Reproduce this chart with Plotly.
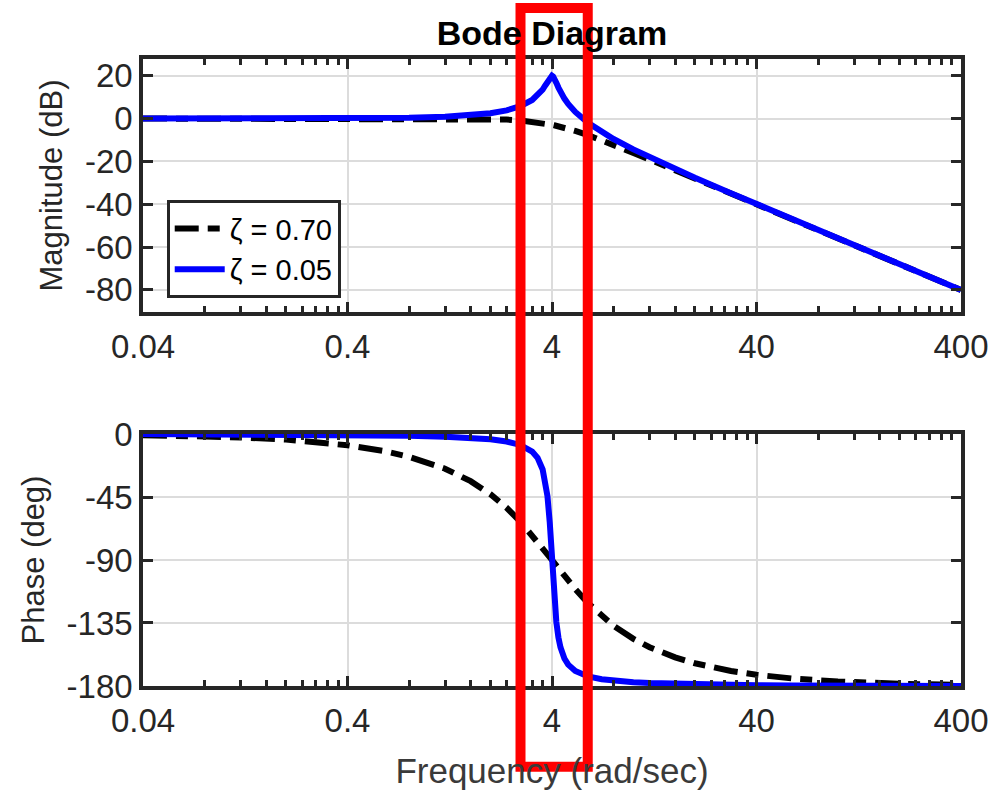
import plotly.graph_objects as go
from plotly.subplots import make_subplots

# ---- data ----
freq = [0.04, 0.08, 0.12, 0.2, 0.28, 0.4, 0.6, 0.8, 1.2, 1.6, 2.0, 2.4, 2.8, 3.2, 3.4,
        3.6, 3.7, 3.8, 3.9, 3.95, 4.0, 4.05, 4.1, 4.2, 4.3, 4.4, 4.6, 4.8, 5.2, 6, 7,
        8, 10, 12, 16, 20, 30, 40, 60, 100, 200, 400]

mag_z070 = [0.00, 0.00, 0.00, 0.00, 0.00, 0.00, 0.00, 0.00, -0.02, -0.08, -0.22, -0.47,
            -0.87, -1.41, -1.74, -2.11, -2.30, -2.50, -2.71, -2.82, -2.92, -3.03, -3.14,
            -3.37, -3.60, -3.83, -4.31, -4.79, -5.79, -7.76, -10.11, -12.26, -16.00,
            -19.12, -24.09, -27.96, -35.00, -40.00, -47.04, -55.92, -67.96, -80.00]

mag_z005 = [0.00, 0.00, 0.01, 0.02, 0.04, 0.09, 0.20, 0.35, 0.81, 1.51, 2.48, 3.84,
            5.77, 8.67, 10.75, 13.55, 15.32, 17.32, 19.23, 19.84, 20.00, 19.63, 18.84,
            16.67, 14.46, 12.50, 9.31, 6.82, 3.07, -2.00, -6.32, -9.56, -14.41,
            -18.07, -23.52, -27.61, -34.85, -39.91, -47.00, -55.90, -67.96, -80.00]

ph_z070 = [-0.80, -1.60, -2.41, -4.01, -5.62, -8.05, -12.13, -16.26, -24.78, -33.69,
           -43.03, -52.70, -62.51, -72.18, -76.87, -81.42, -83.64, -85.81, -87.93,
           -88.97, -90.00, -91.02, -92.02, -93.99, -95.90, -97.77, -101.33, -104.68,
           -110.76, -120.76, -130.09, -136.97, -146.31, -152.30, -159.53, -163.74,
           -169.24, -171.95, -174.64, -176.79, -178.40, -179.20]

ph_z005 = [-0.06, -0.11, -0.17, -0.29, -0.40, -0.58, -0.88, -1.19, -1.89, -2.73,
           -3.81, -5.36, -7.82, -12.53, -17.03, -25.35, -32.65, -44.26, -63.14,
           -75.88, -90.00, -103.96, -116.29, -134.31, -145.36, -152.35, -160.37,
           -164.74, -169.33, -173.16, -175.15, -176.19, -177.27, -177.85, -178.47,
           -178.81, -179.22, -179.42, -179.62, -179.77, -179.89, -179.94]

x_ticks = [0.04, 0.4, 4, 40, 400]
x_tick_labels = ["0.04", "0.4", "4", "40", "400"]
mag_ticks = [20, 0, -20, -40, -60, -80]
mag_tick_labels = ["20", "0", "-20", "-40", "-60", "-80"]
phase_ticks = [0, -45, -90, -135, -180]
phase_tick_labels = ["0", "-45", "-90", "-135", "-180"]
series_names = ["ζ = 0.70", "ζ = 0.05"]

minor_x = [0.04 * k * 10 ** n for n in range(4) for k in range(2, 10)]

TXT = "#262626"
FONT = "Liberation Sans, Arial, sans-serif"
FS = 33

fig = make_subplots(rows=2, cols=1, vertical_spacing=0.0)

dash_pat = "24px,9px,12px,9px"
fig.add_trace(go.Scatter(x=freq, y=mag_z070, mode="lines", name=series_names[0],
                         line=dict(color="#000000", width=6, dash=dash_pat)), row=1, col=1)
fig.add_trace(go.Scatter(x=freq, y=mag_z005, mode="lines", name=series_names[1],
                         line=dict(color="#0000ff", width=6)), row=1, col=1)
fig.add_trace(go.Scatter(x=freq, y=ph_z070, mode="lines", showlegend=False,
                         line=dict(color="#000000", width=6, dash=dash_pat)), row=2, col=1)
fig.add_trace(go.Scatter(x=freq, y=ph_z005, mode="lines", showlegend=False,
                         line=dict(color="#0000ff", width=6)), row=2, col=1)

xcommon = dict(type="log", range=[-1.39794, 2.60206],
               tickmode="array", tickvals=x_ticks, ticktext=x_tick_labels,
               ticks="inside", ticklen=10, tickwidth=3, tickcolor=TXT,
               ticklabelstandoff=3,
               minor=dict(tickmode="array", tickvals=minor_x, ticks="inside",
                          ticklen=6, tickwidth=3, tickcolor=TXT, showgrid=False),
               showline=True, linecolor=TXT, linewidth=3.5, mirror="ticks",
               showgrid=True, gridcolor="#dcdcdc", gridwidth=2,
               tickfont=dict(family=FONT, size=FS, color=TXT), zeroline=False)
ycommon = dict(ticks="inside", ticklen=10, tickwidth=3, tickcolor=TXT,
               showline=True, linecolor=TXT, linewidth=3.5, mirror="ticks",
               showgrid=True, gridcolor="#dcdcdc", gridwidth=2, zeroline=False,
               tickfont=dict(family=FONT, size=FS, color=TXT))

fig.update_xaxes(**xcommon)
fig.update_yaxes(**ycommon)

fig.update_layout(
    xaxis=dict(domain=[0, 1], anchor="y"),
    xaxis2=dict(domain=[0, 1], anchor="y2",
                title=dict(text="Frequency (rad/sec)", standoff=22,
                           font=dict(family=FONT, size=35, color="#3a3a3a"))),
    yaxis=dict(domain=[0.5965, 1.0], range=[-90.3, 27.8], tickmode="array",
               tickvals=mag_ticks, ticktext=mag_tick_labels,
               title=dict(text="Magnitude (dB)", standoff=14,
                          font=dict(family=FONT, size=31, color=TXT))),
    yaxis2=dict(domain=[0.0, 0.4019], range=[-180, 0], tickmode="array",
                tickvals=phase_ticks, ticktext=phase_tick_labels,
                title=dict(text="Phase (deg)", standoff=14,
                           font=dict(family=FONT, size=31, color=TXT))),
    width=994, height=790,
    margin=dict(l=143, r=33, t=59, b=104, autoexpand=False),
    paper_bgcolor="white", plot_bgcolor="white",
    title=dict(text="<b>Bode Diagram</b>", x=0.5, xref="paper", xanchor="center",
               y=1 - 33 / 790, yref="container", yanchor="middle",
               font=dict(family=FONT, size=34, color="#000000")),
    legend=dict(x=0.029, y=0.775, xanchor="left", yanchor="top",
                bgcolor="white", bordercolor=TXT, borderwidth=3,
                font=dict(family=FONT, size=29, color="#000000"),
                tracegroupgap=0, itemwidth=50),
    showlegend=True,
    shapes=[dict(type="rect", xref="paper", yref="paper",
                 x0=0.4615, x1=0.5437, y0=-0.1287, y1=1.0813,
                 line=dict(color="#ff0000", width=10), fillcolor="rgba(0,0,0,0)",
                 layer="above")],
)

fig.write_html("out.html")
